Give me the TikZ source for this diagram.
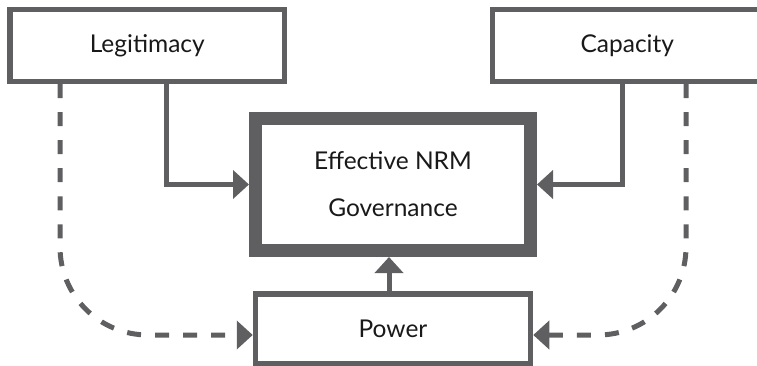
\documentclass[tikz,border=0pt]{standalone}
\usepackage{fontspec}
\setmainfont{Lato}
\usetikzlibrary{arrows.meta}
\definecolor{dg}{RGB}{95,95,98}
\tikzset{
  box/.style={draw=dg, line width=5.5pt, fill=white, rectangle, inner sep=0pt, font=\fontsize{24.5}{29}\selectfont, text=black!90},
  arr/.style={draw=dg, line width=5pt, -{Triangle[length=16pt,width=28pt]}},
  darr/.style={arr, dash pattern=on 14pt off 14pt, rounded corners=88pt}
}
\begin{document}
\begin{tikzpicture}[x=1pt,y=-1pt]
\useasboundingbox (0,0) rectangle (757,366);
\node[box, minimum width=274.5pt, minimum height=72pt] (leg) at (147.25,45.5) {Legitimacy};
\node[box, minimum width=269.5pt, minimum height=72pt] (cap) at (627.25,45.5) {Capacity};
\node[box, line width=13pt, minimum width=275pt, minimum height=132pt, align=center] (eff) at (393,184.5) {Effective NRM\\[18pt]Governance};
\node[box, minimum width=275pt, minimum height=70pt] (pow) at (393,329) {Power};
\draw[arr] ([xshift=19pt]leg.south) |- (eff.west);
\draw[arr] ([xshift=-5pt]cap.south) |- (eff.east);
\draw[arr] ([xshift=-4pt]pow.north) -- ([xshift=-4pt]eff.south);
\draw[darr] ([xshift=-87.25pt]leg.south) |- ([yshift=-6pt]pow.west);
\draw[darr] ([xshift=58.75pt]cap.south) |- ([yshift=-6pt]pow.east);
\end{tikzpicture}
\end{document}
